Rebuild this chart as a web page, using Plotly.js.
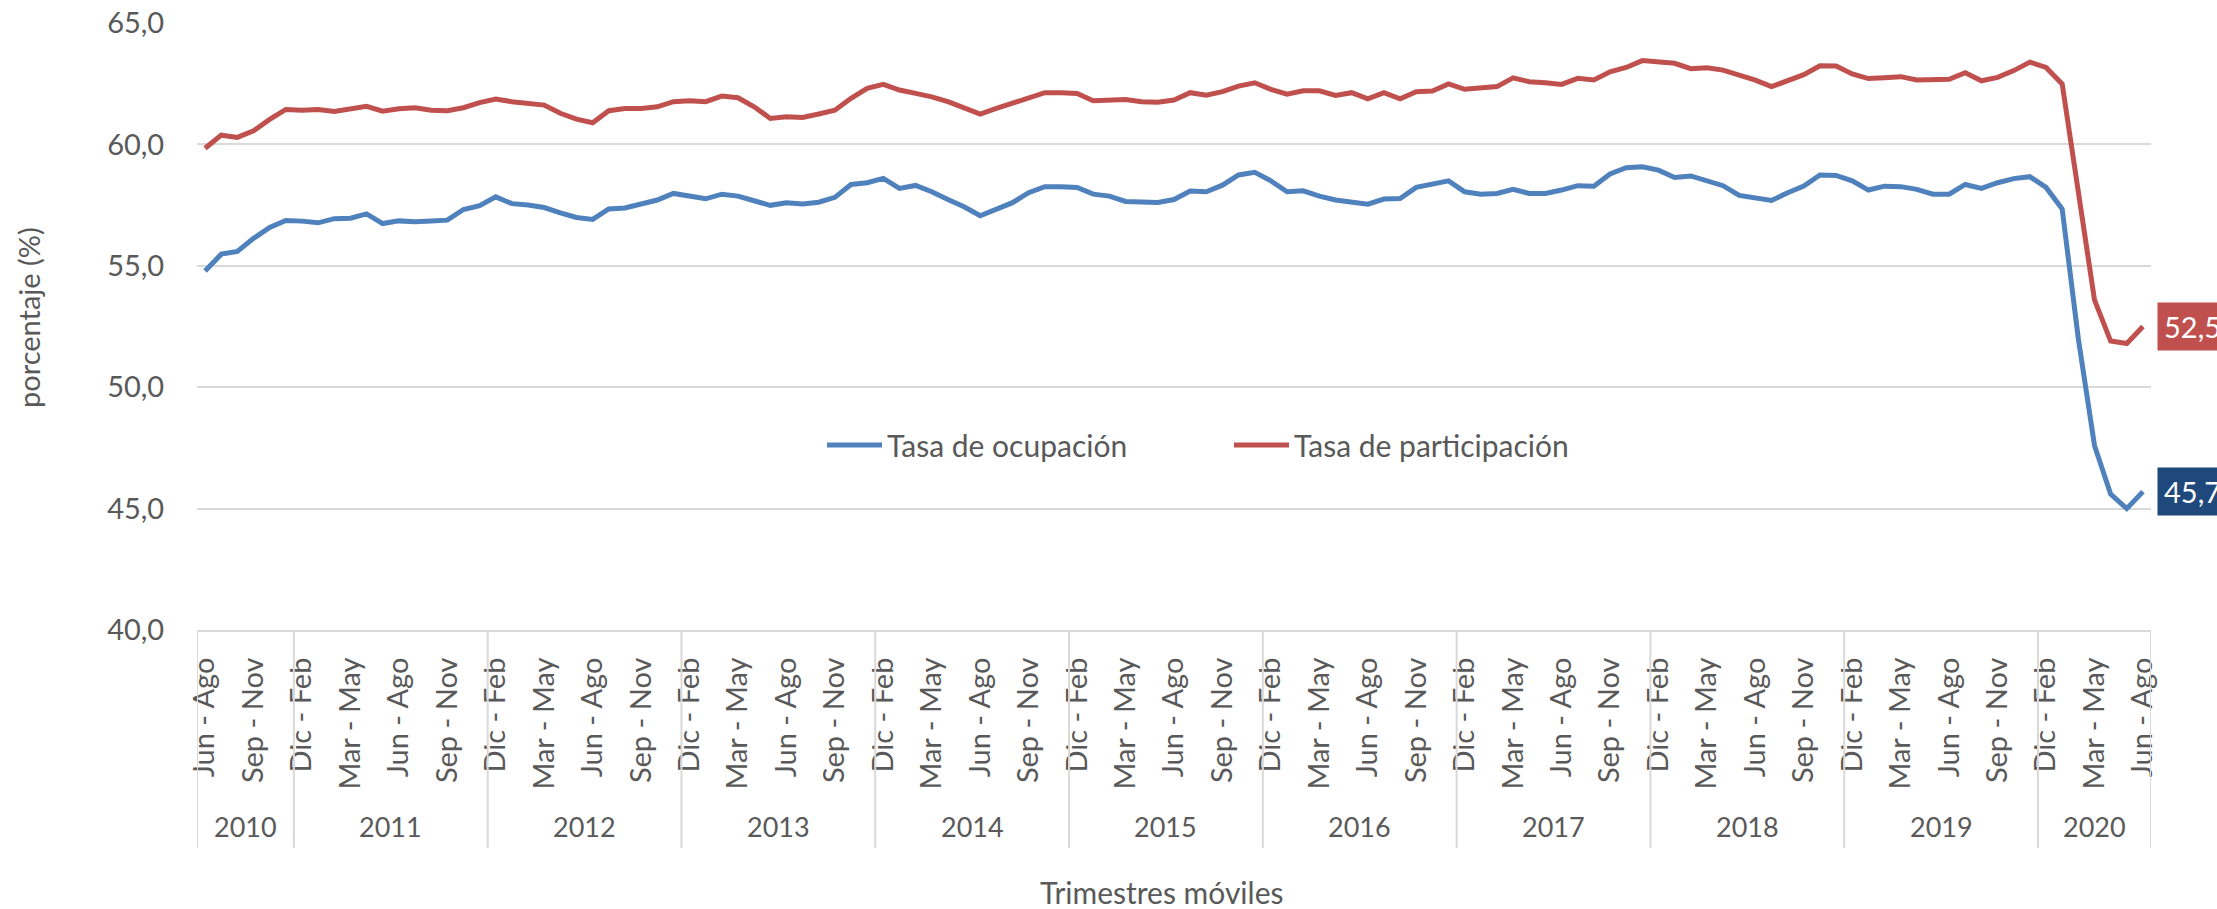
<!DOCTYPE html>
<html>
<head>
<meta charset="utf-8">
<script src="https://cdn.plot.ly/plotly-3.0.1.min.js"></script>
<style>
  html, body { margin: 0; padding: 0; background: #ffffff; }
  #chart { width: 2217px; height: 909px; }
</style>
</head>
<body>
<div id="chart"></div>
<script>
// ---- Data ----
const anios = [2010, 2011, 2012, 2013, 2014, 2015, 2016, 2017, 2018, 2019, 2020];
const puntosPorAnio = [6, 12, 12, 12, 12, 12, 12, 12, 12, 12, 7];
const trimestresCiclo = ['Dic - Feb', 'Ene - Mar', 'Feb - Abr', 'Mar - May', 'Abr - Jun', 'May - Jul',
                         'Jun - Ago', 'Jul - Sep', 'Ago - Oct', 'Sep - Nov', 'Oct - Dic', 'Nov - Ene'];
const primerTrimestre2010 = 'Jun - Ago';

const tasaOcupacion = [
  54.79, 55.48, 55.59, 56.13, 56.58, 56.87,
  56.84, 56.77, 56.94, 56.96, 57.14, 56.74, 56.85, 56.81, 56.85, 56.88, 57.32, 57.48,
  57.84, 57.56, 57.50, 57.40, 57.18, 56.99, 56.91, 57.34, 57.38, 57.57, 57.71, 57.98,
  57.87, 57.76, 57.95, 57.87, 57.68, 57.49, 57.60, 57.55, 57.62, 57.82, 58.35, 58.42,
  58.60, 58.19, 58.31, 58.05, 57.73, 57.43, 57.06, 57.32, 57.60, 58.01, 58.26, 58.26,
  58.23, 57.95, 57.87, 57.65, 57.64, 57.61, 57.73, 58.08, 58.05, 58.32, 58.74, 58.85,
  58.50, 58.05, 58.09, 57.87, 57.71, 57.64, 57.54, 57.75, 57.77, 58.23, 58.37, 58.50,
  58.05, 57.95, 57.98, 58.15, 57.98, 57.98, 58.12, 58.30, 58.28, 58.78, 59.04, 59.08,
  58.94, 58.64, 58.70, 58.48, 58.30, 57.90, 57.79, 57.69, 58.01, 58.28, 58.74, 58.72,
  58.50, 58.12, 58.28, 58.26, 58.15, 57.95, 57.95, 58.35, 58.19, 58.42, 58.59, 58.67,
  58.23, 57.34, 52.00, 47.60, 45.60, 45.00, 45.70
];

const tasaParticipacion = [
  59.84, 60.38, 60.29, 60.56, 61.03, 61.44,
  61.41, 61.44, 61.36, 61.46, 61.57, 61.37, 61.47, 61.51, 61.41, 61.39, 61.51, 61.72,
  61.87, 61.76, 61.69, 61.62, 61.28, 61.04, 60.89, 61.39, 61.48, 61.48, 61.55, 61.76,
  61.80, 61.76, 61.99, 61.92, 61.55, 61.07, 61.14, 61.11, 61.25, 61.41, 61.90, 62.31,
  62.47, 62.24, 62.10, 61.96, 61.76, 61.48, 61.25, 61.48, 61.69, 61.94, 62.13, 62.13,
  62.10, 61.80, 61.80, 61.85, 61.76, 61.74, 61.83, 62.13, 62.03, 62.17, 62.40, 62.54,
  62.27, 62.07, 62.21, 62.21, 62.02, 62.13, 61.88, 62.13, 61.88, 62.17, 62.20, 62.49,
  62.27, 62.35, 62.38, 62.74, 62.58, 62.54, 62.47, 62.72, 62.65, 62.99, 63.17, 63.45,
  63.41, 63.34, 63.12, 63.16, 63.06, 62.86, 62.65, 62.38, 62.65, 62.87, 63.24, 63.23,
  62.90, 62.71, 62.75, 62.79, 62.65, 62.65, 62.68, 62.95, 62.62, 62.76, 63.04, 63.39,
  63.17, 62.49, 57.90, 53.60, 51.90, 51.80, 52.50
];

const nombreOcupacion = 'Tasa de ocupación';
const nombreParticipacion = 'Tasa de participación';
const tituloEjeX = 'Trimestres móviles';
const tituloEjeY = 'porcentaje (%)';

// ---- Build categories ----
const claves = [];      // unique category keys
const etiquetas = [];   // trimestre label per point
const inicioAnio = [];  // index of first point of each year
let idx = 0;
anios.forEach((a, k) => {
  inicioAnio.push(idx);
  let off = (k === 0) ? trimestresCiclo.indexOf(primerTrimestre2010) : 0;
  for (let j = 0; j < puntosPorAnio[k]; j++) {
    const t = trimestresCiclo[(off + j) % 12];
    etiquetas.push(t);
    claves.push(t + ' ' + a + ' #' + idx);
    idx++;
  }
});
const nPts = claves.length;

const tickVals = [], tickText = [];
for (let i = 0; i < nPts; i += 3) { tickVals.push(claves[i]); tickText.push(etiquetas[i]); }

// ---- Styles ----
const azul = '#4F81BD', rojo = '#C0504D', azulOscuro = '#1F497D';
const gris = '#595959', grid = '#D9D9D9';
const fuente = 'Lato, "Open Sans", sans-serif';

const traces = [
  { x: claves, y: tasaOcupacion, type: 'scatter', mode: 'lines', name: nombreOcupacion,
    line: { color: azul, width: 5 }, hoverinfo: 'skip' },
  { x: claves, y: tasaParticipacion, type: 'scatter', mode: 'lines', name: nombreParticipacion,
    line: { color: rojo, width: 5 }, hoverinfo: 'skip' }
];

// plot geometry helpers (paper fractions)
const plotH = 909 - 23 - 279;
const plotW = 2217 - 197 - 66;

const shapes = [];
inicioAnio.forEach(s => {
  shapes.push({ type: 'line', xref: 'x', yref: 'paper', x0: s - 0.5, x1: s - 0.5, y0: 0, y1: -218 / plotH,
                line: { color: grid, width: 2 } });
});
shapes.push({ type: 'line', xref: 'x', yref: 'paper', x0: nPts - 0.5, x1: nPts - 0.5, y0: 0, y1: -218 / plotH,
              line: { color: grid, width: 2 } });

const annotations = [];
anios.forEach((a, k) => {
  annotations.push({ x: inicioAnio[k] + (puntosPorAnio[k] - 1) / 2, xref: 'x', y: -196 / plotH, yref: 'paper',
                     text: String(a), showarrow: false, xanchor: 'center', yanchor: 'middle',
                     font: { family: fuente, size: 27, color: gris } });
});
annotations.push({ x: (1161 - 197) / plotW, xref: 'paper', y: -262 / plotH, yref: 'paper', text: tituloEjeX,
                   showarrow: false, xanchor: 'center', yanchor: 'middle', font: { family: fuente, size: 30, color: gris } });
annotations.push({ x: (28 - 197) / plotW, xref: 'paper', y: (630 - 318) / plotH, yref: 'paper', text: tituloEjeY,
                   textangle: -90, showarrow: false, xanchor: 'center', yanchor: 'middle',
                   font: { family: fuente, size: 29, color: gris } });

const fmt = v => v.toFixed(1).replace('.', ',');
const last = nPts - 1;
annotations.push({ x: claves[last], y: tasaParticipacion[last], xref: 'x', yref: 'y', text: fmt(tasaParticipacion[last]),
                   showarrow: false, xanchor: 'left', yanchor: 'middle', xshift: 14, bgcolor: rojo, borderpad: 6,
                   font: { family: fuente, size: 29, color: '#ffffff' } });
annotations.push({ x: claves[last], y: tasaOcupacion[last], xref: 'x', yref: 'y', text: fmt(tasaOcupacion[last]),
                   showarrow: false, xanchor: 'left', yanchor: 'middle', xshift: 14, bgcolor: azulOscuro, borderpad: 6,
                   font: { family: fuente, size: 29, color: '#ffffff' } });

const layout = {
  width: 2217, height: 909,
  margin: { l: 197, r: 66, t: 23, b: 279, pad: 0 },
  paper_bgcolor: '#ffffff', plot_bgcolor: '#ffffff',
  separators: ',.',
  font: { family: fuente, size: 29, color: gris },
  showlegend: true,
  legend: { orientation: 'h', x: (822 - 197) / plotW, xanchor: 'left', y: (630 - 445) / plotH, yanchor: 'middle',
            bgcolor: 'rgba(0,0,0,0)', itemwidth: 55, entrywidth: 337,
            font: { family: fuente, size: 30, color: gris } },
  xaxis: { type: 'category', range: [-0.5, nPts - 0.5], tickmode: 'array', tickvals: tickVals, ticktext: tickText,
           tickangle: -90, ticks: 'outside', ticklen: 14, tickcolor: 'rgba(0,0,0,0)', showgrid: false,
           showline: true, linecolor: grid, linewidth: 2, zeroline: false, fixedrange: true,
           tickfont: { family: fuente, size: 29, color: gris } },
  yaxis: { range: [40, 65], tick0: 40, dtick: 5, tickformat: '.1f', showgrid: true, gridcolor: grid, gridwidth: 2,
           zeroline: false, showline: false, ticks: 'outside', ticklen: 26, tickcolor: 'rgba(0,0,0,0)', fixedrange: true,
           tickfont: { family: fuente, size: 29, color: gris } },
  shapes: shapes,
  annotations: annotations
};

Plotly.newPlot('chart', traces, layout, { displayModeBar: false, staticPlot: true });
</script>
</body>
</html>
